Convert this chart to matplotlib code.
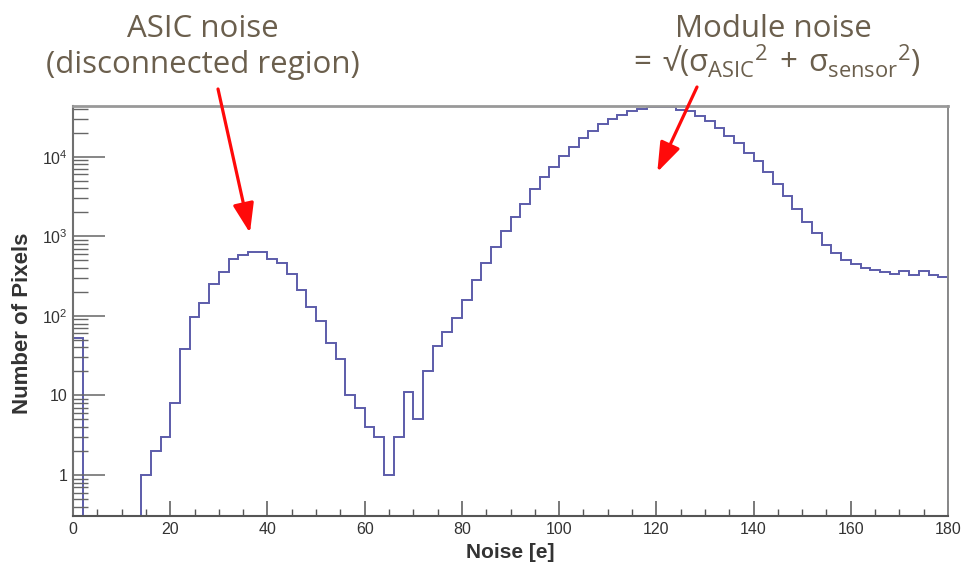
import numpy as np
import matplotlib
matplotlib.use('Agg')
import matplotlib.pyplot as plt
from matplotlib.ticker import LogLocator, NullFormatter, MultipleLocator

plt.rcParams['font.family'] = ['Liberation Sans', 'DejaVu Sans']
plt.rcParams['mathtext.fontset'] = 'dejavusans'

fig_name = "out.png"

##################### HISTOGRAM DATA #####################
bin_edges = np.arange(0, 182, 2)
counts = [52, 0, 0, 0, 0, 0, 0,
          1, 2, 3, 8, 38, 96, 146, 250, 357, 513, 580, 630, 635,
          513, 455, 340, 210, 130, 85, 46, 29, 10, 7,
          4, 3, 1, 3, 11, 5, 20, 42, 62, 95,
          158, 282, 457, 740, 1180, 1740, 2560, 3900, 5500, 7400,
          10300, 13200, 17000, 21000, 25500, 29500, 33500, 37000, 40000, 41500,
          42000, 41500, 38500, 37000, 32500, 28000, 23000, 18000, 14700, 11200,
          8700, 6500, 4500, 3200, 2180, 1520, 1100, 780, 610, 505,
          445, 400, 380, 360, 340, 370, 330, 365, 330, 310]

y_ticks = [1, 10, 100, 1000, 10000]
y_tick_labels = ['1', '10', r'$\mathdefault{10^{2}}$', r'$\mathdefault{10^{3}}$',
                 r'$\mathdefault{10^{4}}$']

asic_text = ['ASIC noise', '(disconnected region)']
module_text = ['Module noise',
               r'$\mathdefault{=\,√(σ_{ASIC}{}^{2}\,+\,σ_{sensor}{}^{2})}$']

# arrow tips in data coordinates (noise, pixels)
asic_tip = (36.4, 1100)
module_tip = (120.2, 6400)

########################### PLOT CONFIGURATION ###############################
fig = plt.figure(figsize=(9.65, 5.74), dpi=100)
ax = fig.add_axes([73/965, 58/574, 875/965, 410/574])

plot_counts = np.where(np.array(counts) > 0, counts, 1e-2)
ax.stairs(plot_counts, bin_edges, baseline=1e-2, color='#5c5caa', lw=1.4)

ax.set_yscale('log')
ax.set_xlim(0, 180)
ax.set_ylim(0.305, 43300)

ax.set_yticks(y_ticks, labels=y_tick_labels)
ax.yaxis.set_minor_locator(LogLocator(base=10, subs=np.arange(2, 10), numticks=30))
ax.yaxis.set_minor_formatter(NullFormatter())
ax.xaxis.set_major_locator(MultipleLocator(20))
ax.xaxis.set_minor_locator(MultipleLocator(5))

ax.tick_params(axis='y', which='major', direction='in', length=23, width=1.1,
               color='#666666', labelsize=11.5, labelcolor='#333333', pad=4)
ax.tick_params(axis='y', which='minor', direction='in', length=11, width=1.0,
               color='#666666')
ax.tick_params(axis='x', which='major', direction='in', length=11, width=1.1,
               color='#555555', labelsize=11.5, labelcolor='#333333', pad=4)
ax.tick_params(axis='x', which='minor', direction='in', length=5, width=1.0,
               color='#555555')

ax.spines['top'].set_color('#999999')
ax.spines['top'].set_linewidth(2.0)
ax.spines['right'].set_color('#8a8a8a')
ax.spines['right'].set_linewidth(1.4)
ax.spines['left'].set_color('#707070')
ax.spines['left'].set_linewidth(1.5)
ax.spines['bottom'].set_color('#555555')
ax.spines['bottom'].set_linewidth(1.5)

ax.set_xlabel('Noise [e]', fontsize=15, fontweight='bold', color='#333333')
ax.xaxis.set_label_coords(0.5, -0.066)
ax.set_ylabel('Number of Pixels', fontsize=16, fontweight='bold', color='#333333')
ax.yaxis.set_label_coords(-0.046, 0.471)

########################### ANNOTATIONS ######################################
txt_color = '#6b5f4d'
ann_font = ['Open Sans', 'DejaVu Sans']
fig.text(203/965, 1 - 36.7/574, asic_text[0], ha='center', va='baseline',
         fontsize=22.5, color=txt_color, family=ann_font)
fig.text(203/965, 1 - 73/574, asic_text[1], ha='center', va='baseline',
         fontsize=22.5, color=txt_color, family=ann_font)
fig.text(773/965, 1 - 36.7/574, module_text[0], ha='center', va='baseline',
         fontsize=22.5, color=txt_color, family=ann_font)
fig.text(774/965, 1 - 72/574, module_text[1], ha='center', va='baseline',
         fontsize=22.5, color=txt_color, family=ann_font)

arrow = dict(arrowstyle='-|>,head_length=0.9,head_width=0.32', color='#ff0a0a',
             lw=2.3, mutation_scale=20, shrinkA=0, shrinkB=0)
ax.annotate('', xy=asic_tip, xycoords='data', xytext=(218, 574 - 89),
            textcoords='figure pixels', arrowprops=arrow, annotation_clip=False)
ax.annotate('', xy=module_tip, xycoords='data', xytext=(697, 574 - 87),
            textcoords='figure pixels', arrowprops=arrow, annotation_clip=False)

############################ OUTPUT ##########################################
plt.savefig(fig_name, dpi=100, facecolor='w')
